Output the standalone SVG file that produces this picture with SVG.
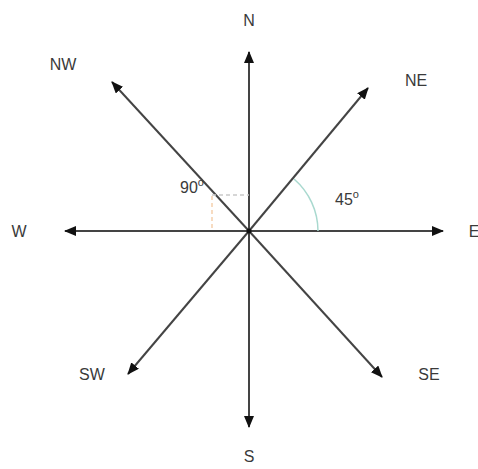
<svg xmlns="http://www.w3.org/2000/svg" width="478" height="469" viewBox="0 0 478 469">
<defs>
<marker id="ah" viewBox="0 0 12 10" refX="11" refY="5" markerWidth="12" markerHeight="10" markerUnits="userSpaceOnUse" orient="auto">
<path d="M0,0 L12,5 L0,10 Z" fill="#111"/>
</marker>
<style>
.ln{stroke:#444;stroke-width:2;fill:none;marker-end:url(#ah)}
.lb{font-family:"Liberation Sans",Arial,sans-serif;font-size:16px;fill:#3a3a3a;text-anchor:middle;dominant-baseline:central}
.st{text-anchor:start}
</style>
</defs>
<rect width="478" height="469" fill="#fff"/>
<g id="connectors">
<line class="ln" x1="249" y1="231" x2="249" y2="52"/>
<line class="ln" x1="249" y1="231" x2="249" y2="427"/>
<line class="ln" x1="249" y1="231" x2="65" y2="231"/>
<line class="ln" x1="249" y1="231" x2="443" y2="231"/>
<line class="ln" x1="249" y1="231" x2="368" y2="88"/>
<line class="ln" x1="249" y1="231" x2="112" y2="82"/>
<line class="ln" x1="249" y1="231" x2="128" y2="374"/>
<line class="ln" x1="249" y1="231" x2="382" y2="377"/>
</g>
<g id="angles">
<path d="M318,231 A69,69 0 0 0 294,179" fill="none" stroke="#a9d9cf" stroke-width="1.5"/>
<line x1="212" y1="196" x2="212" y2="231" stroke="#f3c9a0" stroke-width="1.3" stroke-dasharray="4,3"/>
<line x1="212" y1="195" x2="249" y2="195" stroke="#c9c9c9" stroke-width="1.3" stroke-dasharray="4,3"/>
<circle cx="249" cy="231" r="2.5" fill="#111"/>
</g>
<g id="N"><text class="lb" x="249" y="20">N</text></g>
<g id="S"><text class="lb" x="249" y="456">S</text></g>
<g id="W"><text class="lb" x="19" y="231">W</text></g>
<g id="E"><text class="lb" x="474" y="231">E</text></g>
<g id="NE"><text class="lb" x="416" y="80">NE</text></g>
<g id="NW"><text class="lb" x="63" y="64">NW</text></g>
<g id="SW"><text class="lb" x="92" y="374">SW</text></g>
<g id="SE"><text class="lb" x="429" y="374">SE</text></g>
<g id="a90"><text class="lb st" x="180" y="187">90<tspan font-size="11" dy="-5">o</tspan></text></g>
<g id="a45"><text class="lb st" x="335" y="199">45<tspan font-size="11" dy="-5">o</tspan></text></g>
</svg>
